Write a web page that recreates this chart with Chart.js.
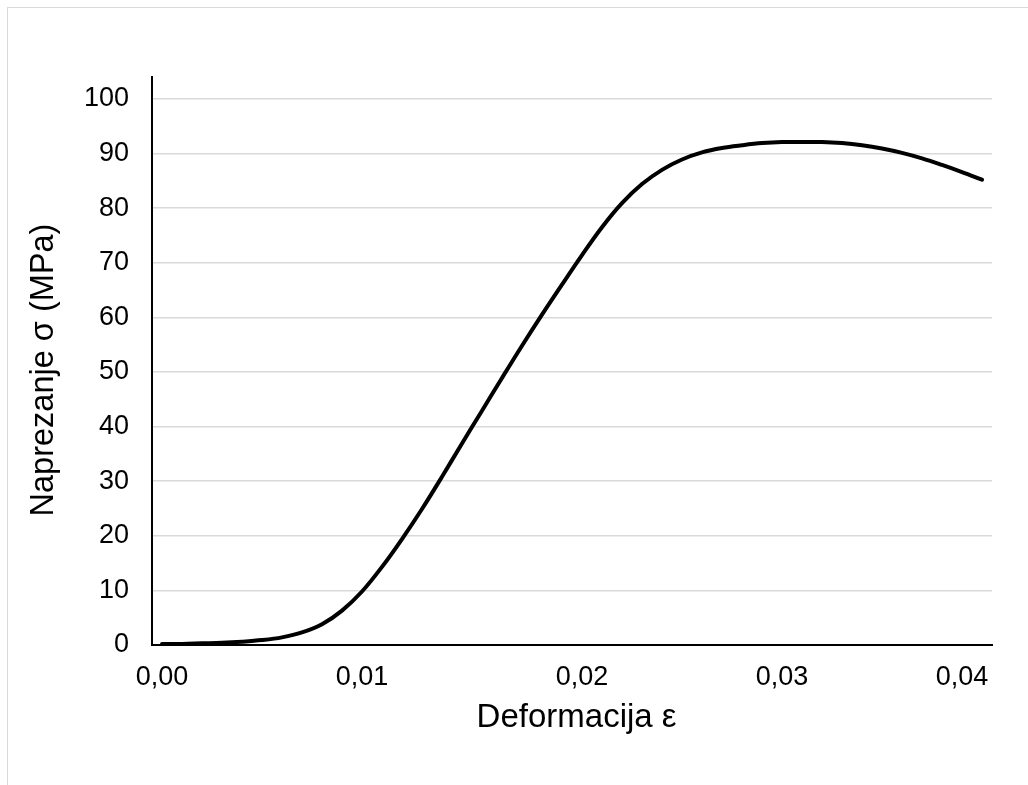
<!DOCTYPE html>
<html>
<head>
<meta charset="utf-8">
<title>Naprezanje - deformacija</title>
<script src="https://cdn.jsdelivr.net/npm/chart.js@4.4.1/dist/chart.umd.min.js"></script>
<style>
  html, body { margin: 0; padding: 0; background: #fff; overflow: hidden; }
  #frame { position: absolute; left: 7px; top: 7px; width: 1060px; height: 820px; border: 1px solid #d9d9d9; }
  #wrap { position: absolute; left: 0; top: 0; width: 1028px; height: 785px; }
</style>
</head>
<body>
<div id="frame"></div>
<div id="wrap"><canvas id="stressChart"></canvas></div>
<script>
// strain values (categories)
const strain = [
  0.000, 0.001, 0.002, 0.003, 0.004, 0.005, 0.006, 0.007, 0.008, 0.009,
  0.010, 0.011, 0.012, 0.013, 0.014, 0.015, 0.016, 0.017, 0.018, 0.019,
  0.020, 0.021, 0.022, 0.023, 0.024, 0.025, 0.026, 0.027, 0.028, 0.029,
  0.030, 0.031, 0.032, 0.033, 0.034, 0.035, 0.036, 0.037, 0.038, 0.039,
  0.040, 0.041
];

// stress in MPa
const stress = [
  0.2, 0.2, 0.3, 0.4, 0.6, 0.9, 1.4, 2.3, 3.8, 6.3,
  9.8, 14.3, 19.4, 24.9, 30.8, 36.9, 42.9, 48.9, 54.8, 60.5,
  66.0, 71.4, 76.5, 80.9, 84.4, 87.0, 88.9, 90.2, 91.0, 91.5,
  91.9, 92.1, 92.1, 92.1, 91.9, 91.5, 90.9, 90.1, 89.1, 87.9,
  86.6, 85.2
];

// category indices that carry an x label
const xLabelIdx = [0, 10, 21, 31, 40];

// y tick values
const yTicks = [0, 10, 20, 30, 40, 50, 60, 70, 80, 90, 100];

const FONT = "'Liberation Sans', Arial, sans-serif";

const ctx = document.getElementById('stressChart');

new Chart(ctx, {
  type: 'line',
  data: {
    labels: strain,
    datasets: [{
      label: 'Naprezanje',
      data: stress,
      borderColor: '#000',
      borderWidth: 4,
      pointRadius: 0,
      fill: false,
      tension: 0.35,
      borderCapStyle: 'round',
      borderJoinStyle: 'round'
    }]
  },
  options: {
    responsive: true,
    maintainAspectRatio: false,
    animation: false,
    layout: {
      padding: { left: 0, top: 77, right: 36, bottom: 0 }
    },
    plugins: {
      legend: { display: false },
      tooltip: { enabled: false }
    },
    scales: {
      x: {
        type: 'category',
        offset: true,
        grid: { display: false, drawTicks: false },
        border: { display: true, color: '#000', width: 2 },
        ticks: {
          autoSkip: false,
          maxRotation: 0,
          padding: 16,
          color: '#000',
          font: { family: FONT, size: 27 },
          callback: function(value, index) {
            if (!xLabelIdx.includes(index)) return null;
            return strain[index].toFixed(2).replace('.', ',');
          }
        },
        title: {
          display: true,
          text: '\u00a0Deformacija ε',
          color: '#000',
          font: { family: FONT, size: 33 },
          padding: { top: 0, bottom: 47 }
        },
        afterFit: function(scale) { scale.height = 140; }
      },
      y: {
        min: 0,
        max: 104,
        grid: { color: '#d9d9d9', lineWidth: 1.5, drawTicks: false },
        border: { display: true, color: '#000', width: 2 },
        afterBuildTicks: function(scale) {
          scale.ticks = yTicks.map(v => ({ value: v }));
        },
        ticks: {
          padding: 23,
          color: '#000',
          font: { family: FONT, size: 27 }
        },
        title: {
          display: true,
          // trailing spaces nudge the rotated title down to the gridded area
          text: 'Naprezanje σ (MPa)\u00a0\u00a0',
          color: '#000',
          font: { family: FONT, size: 32.5 },
          padding: { top: 25, bottom: 0 }
        },
        afterFit: function(scale) { scale.width = 152; }
      }
    }
  }
});
</script>
</body>
</html>
